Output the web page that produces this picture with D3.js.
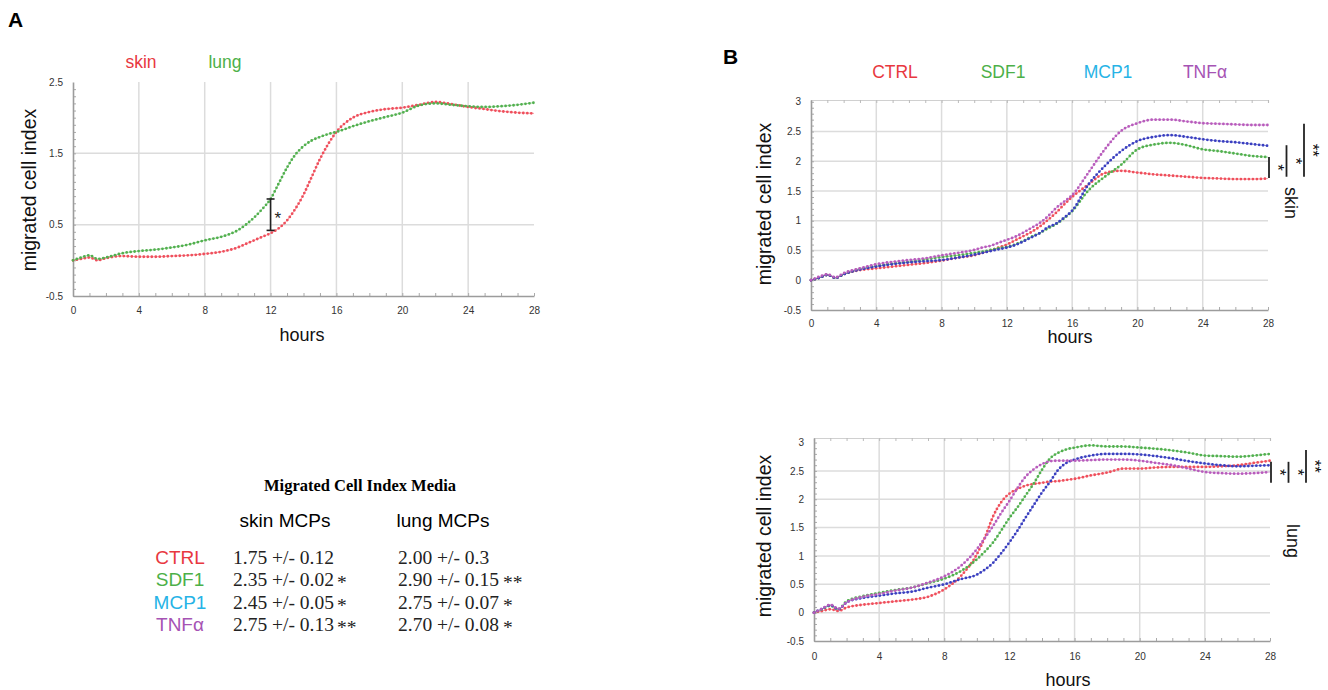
<!DOCTYPE html>
<html>
<head>
<meta charset="utf-8">
<script src="https://cdn.jsdelivr.net/npm/d3@7"></script>
<style>
  body { margin: 0; background: #fff; }
  svg text { font-family: "Liberation Sans", Arial, sans-serif; }
</style>
</head>
<body>
<div id="chart"></div>
<script>
// sampling hours shared by all curves
const hours = [0, 0.5, 1, 1.5, 2, 3, 4, 5, 6, 7, 8, 9, 10, 10.5, 11, 11.5, 12, 12.5, 13, 13.5, 14, 14.5, 15, 15.5, 16, 17, 18, 19, 20, 21, 22, 23, 24, 25, 26, 27, 28];
const hourTicks = [0, 4, 8, 12, 16, 20, 24, 28];

// panel A : skin vs lung MCPs
const skinA = [0.0, 0.02, 0.04, 0.0, 0.03, 0.06, 0.05, 0.05, 0.06, 0.07, 0.09, 0.12, 0.18, 0.23, 0.28, 0.33, 0.38, 0.45, 0.56, 0.72, 0.92, 1.17, 1.42, 1.63, 1.80, 2.00, 2.08, 2.12, 2.14, 2.18, 2.22, 2.19, 2.15, 2.12, 2.09, 2.07, 2.06];
const lungA = [0.0, 0.04, 0.07, 0.02, 0.04, 0.10, 0.13, 0.15, 0.18, 0.22, 0.28, 0.33, 0.42, 0.50, 0.60, 0.72, 0.86, 1.08, 1.30, 1.48, 1.60, 1.68, 1.73, 1.77, 1.80, 1.88, 1.95, 2.01, 2.07, 2.17, 2.20, 2.18, 2.16, 2.15, 2.16, 2.18, 2.21];
const sigA = {hour: 12, low: 0.42, high: 0.86, label: '*'};

// panel B : treatments
const treatments = ['CTRL', 'SDF1', 'MCP1', 'TNFα'];
const ctrlSkin = [0.0, 0.04, 0.09, 0.04, 0.10, 0.17, 0.20, 0.23, 0.26, 0.29, 0.33, 0.38, 0.42, 0.46, 0.50, 0.55, 0.60, 0.67, 0.74, 0.81, 0.90, 1.01, 1.13, 1.27, 1.40, 1.61, 1.80, 1.84, 1.81, 1.78, 1.76, 1.74, 1.72, 1.71, 1.70, 1.70, 1.71];
const sdf1Skin = [0.0, 0.04, 0.09, 0.04, 0.10, 0.19, 0.24, 0.28, 0.31, 0.35, 0.39, 0.42, 0.46, 0.48, 0.51, 0.54, 0.56, 0.60, 0.66, 0.73, 0.79, 0.87, 0.94, 1.04, 1.16, 1.51, 1.74, 1.94, 2.20, 2.28, 2.31, 2.27, 2.20, 2.17, 2.13, 2.09, 2.07];
const mcp1Skin = [0.0, 0.04, 0.09, 0.04, 0.10, 0.18, 0.23, 0.27, 0.30, 0.32, 0.34, 0.38, 0.43, 0.46, 0.49, 0.52, 0.55, 0.59, 0.65, 0.72, 0.79, 0.89, 0.95, 1.05, 1.17, 1.61, 1.92, 2.17, 2.34, 2.41, 2.44, 2.41, 2.37, 2.34, 2.32, 2.29, 2.26];
const tnfSkin = [0.0, 0.06, 0.10, 0.05, 0.12, 0.20, 0.27, 0.31, 0.34, 0.37, 0.42, 0.46, 0.51, 0.55, 0.58, 0.63, 0.68, 0.73, 0.80, 0.88, 0.96, 1.07, 1.21, 1.32, 1.43, 1.81, 2.20, 2.51, 2.64, 2.70, 2.70, 2.67, 2.64, 2.63, 2.62, 2.61, 2.61];

const ctrlLung = [0.0, 0.03, 0.06, 0.03, 0.09, 0.14, 0.17, 0.20, 0.23, 0.28, 0.41, 0.64, 1.03, 1.33, 1.70, 1.95, 2.10, 2.18, 2.24, 2.27, 2.29, 2.31, 2.32, 2.34, 2.36, 2.42, 2.47, 2.54, 2.54, 2.56, 2.57, 2.57, 2.57, 2.58, 2.60, 2.64, 2.68];
const sdf1Lung = [0.0, 0.06, 0.12, 0.06, 0.20, 0.29, 0.35, 0.40, 0.44, 0.52, 0.60, 0.73, 0.94, 1.08, 1.24, 1.45, 1.67, 1.86, 2.07, 2.28, 2.52, 2.72, 2.82, 2.88, 2.91, 2.95, 2.93, 2.93, 2.91, 2.89, 2.86, 2.82, 2.77, 2.76, 2.75, 2.77, 2.80];
const mcp1Lung = [0.0, 0.07, 0.13, 0.06, 0.18, 0.26, 0.30, 0.34, 0.37, 0.44, 0.50, 0.59, 0.67, 0.76, 0.88, 1.05, 1.24, 1.45, 1.68, 1.90, 2.12, 2.31, 2.52, 2.64, 2.70, 2.77, 2.80, 2.80, 2.79, 2.76, 2.72, 2.67, 2.63, 2.60, 2.58, 2.59, 2.60];
const tnfLung = [0.0, 0.07, 0.14, 0.07, 0.18, 0.28, 0.33, 0.39, 0.44, 0.53, 0.64, 0.82, 1.12, 1.32, 1.53, 1.76, 1.97, 2.20, 2.40, 2.53, 2.62, 2.67, 2.68, 2.68, 2.68, 2.69, 2.70, 2.70, 2.68, 2.64, 2.60, 2.54, 2.48, 2.46, 2.45, 2.46, 2.48];

const skinSigLow = [1.72, 1.74, 1.74];
const skinSigHigh = [2.07, 2.27, 2.63];
const lungSigLow = [2.29, 2.29, 2.29];
const lungSigHigh = [2.66, 2.66, 2.87];
const sigLabels = ['*', '*', '**'];

// table of means
const skinMean = [1.75, 2.35, 2.45, 2.75];
const skinSd = [0.12, 0.02, 0.05, 0.13];
const skinStars = ['', '*', '*', '**'];
const lungMean = [2.00, 2.90, 2.75, 2.70];
const lungSd = [0.3, 0.15, 0.07, 0.08];
const lungStars = ['', '**', '*', '*'];

const lineColors = ['#ef4f5c', '#52b04f', '#3a3fc0', '#b85cbc'];
const labelColors = ['#e8383f', '#4cb048', '#26b3e6', '#a653b4'];
const serif = '"Liberation Serif", "Times New Roman", serif';

const svg = d3.select('#chart').append('svg')
  .attr('width', 1328)
  .attr('height', 690);

function drawPanel(p) {
  const x = d3.scaleLinear().domain([0, 28]).range(p.xRange);
  const y = d3.scaleLinear().domain(p.yDomain).range(p.yRange);
  const g = svg.append('g');
  const bottom = p.yRange[0], top = p.yRange[1];

  // grid
  g.selectAll('line.vg').data([4, 8, 12, 16, 20, 24]).join('line')
    .attr('x1', d => x(d)).attr('x2', d => x(d))
    .attr('y1', bottom).attr('y2', top)
    .attr('stroke', '#dcdcdc').attr('stroke-width', 1.5);
  g.selectAll('line.hg').data(p.hGrid).join('line')
    .attr('x1', x(0)).attr('x2', x(28))
    .attr('y1', d => y(d)).attr('y2', d => y(d))
    .attr('stroke', '#dcdcdc').attr('stroke-width', 1.5);

  if (p.topFrame) {
    const t = g.append('g').attr('transform', `translate(0,${top})`)
      .call(d3.axisBottom(x).tickValues(d3.range(0, 29, 1)).tickSize(3).tickFormat(''));
    t.select('.domain').attr('stroke', '#d0d0d0').attr('stroke-width', 1.2);
    t.selectAll('.tick line').attr('stroke', '#bbb');
  }

  // minor ticks
  const ym = g.append('g').attr('transform', `translate(${x(0)},0)`)
    .call(d3.axisRight(y).tickValues(d3.range(p.yDomain[0], p.yDomain[1], 0.1)).tickSize(3).tickFormat(''));
  ym.select('.domain').remove();
  ym.selectAll('.tick line').attr('stroke', '#aaa');
  const xm = g.append('g').attr('transform', `translate(0,${bottom})`)
    .call(d3.axisTop(x).tickValues(d3.range(0, 29, 1)).tickSize(3).tickFormat(''));
  xm.select('.domain').remove();
  xm.selectAll('.tick line').attr('stroke', '#aaa');

  // axes with labels
  const ya = g.append('g').attr('transform', `translate(${x(0)},0)`)
    .call(d3.axisLeft(y).tickValues(p.yTicks).tickSize(0).tickPadding(10).tickFormat(d => String(d)));
  const xa = g.append('g').attr('transform', `translate(0,${bottom})`)
    .call(d3.axisBottom(x).tickValues(hourTicks).tickSize(0).tickPadding(p.xPad).tickFormat(d => String(d)));
  [ya, xa].forEach(a => {
    a.select('.domain').attr('stroke', '#9c9c9c').attr('stroke-width', 1.6);
    a.selectAll('text').attr('font-size', 10).attr('fill', '#333');
  });

  // curves: thin line plus dotted overlay
  const line = d3.line()
    .x((d, i) => x(hours[i]))
    .y(d => y(d))
    .curve(d3.curveMonotoneX);
  p.series.forEach((s, i) => {
    g.append('path').datum(s)
      .attr('d', line).attr('fill', 'none')
      .attr('stroke', p.colors[i]).attr('stroke-width', 1).attr('stroke-opacity', 0.55);
    g.append('path').datum(s)
      .attr('d', line).attr('fill', 'none')
      .attr('stroke', p.colors[i]).attr('stroke-width', 2.8)
      .attr('stroke-linecap', 'round').attr('stroke-dasharray', '0 4');
  });

  // axis titles
  g.append('text')
    .attr('transform', `translate(${p.yTitle[0]},${p.yTitle[1]}) rotate(-90)`)
    .attr('text-anchor', 'middle').attr('font-size', 19.5).attr('fill', '#111')
    .text('migrated cell index');
  g.append('text')
    .attr('x', p.xTitle[0]).attr('y', p.xTitle[1])
    .attr('text-anchor', 'middle').attr('font-size', 18).attr('fill', '#111')
    .text('hours');

  return {x, y, g};
}

// ---------- panel A ----------
svg.append('text').attr('x', 8).attr('y', 27).attr('font-size', 21).attr('font-weight', 'bold').text('A');
['skin', 'lung'].forEach((t, i) => {
  svg.append('text').attr('x', [141, 225][i]).attr('y', 68)
    .attr('text-anchor', 'middle').attr('font-size', 17.5)
    .attr('fill', labelColors[i]).text(t);
});
const A = drawPanel({
  xRange: [73, 534], yDomain: [-0.5, 2.5], yRange: [296, 82],
  yTicks: [-0.5, 0.5, 1.5, 2.5], hGrid: [0.5, 1.5], topFrame: false, xPad: 11,
  series: [skinA, lungA], colors: [lineColors[0], lineColors[1]],
  yTitle: [36, 190], xTitle: [302, 341]
});
{
  const bx = A.x(sigA.hour), y1 = A.y(sigA.low), y2 = A.y(sigA.high);
  A.g.append('line').attr('x1', bx).attr('x2', bx).attr('y1', y1).attr('y2', y2)
    .attr('stroke', '#222').attr('stroke-width', 1.6);
  [y1, y2].forEach(v => A.g.append('line').attr('x1', bx - 4).attr('x2', bx + 4)
    .attr('y1', v).attr('y2', v).attr('stroke', '#222').attr('stroke-width', 1.6));
  A.g.append('text').attr('x', bx + 4).attr('y', (y1 + y2) / 2 + 9)
    .attr('font-size', 17).attr('fill', '#222').text(sigA.label);
}

// ---------- panel B ----------
svg.append('text').attr('x', 723).attr('y', 64).attr('font-size', 21).attr('font-weight', 'bold').text('B');
treatments.forEach((t, i) => {
  svg.append('text').attr('x', [895, 1003, 1108, 1205][i]).attr('y', 78)
    .attr('text-anchor', 'middle').attr('font-size', 17.5)
    .attr('fill', labelColors[i]).text(t);
});

function sigBars(P, lows, highs, side, sideY) {
  const x0 = P.x(28);
  lows.forEach((lo, i) => {
    const bx = x0 + 1 + i * 17.5;
    const y1 = P.y(lo), y2 = P.y(highs[i]);
    P.g.append('line').attr('x1', bx).attr('x2', bx).attr('y1', y1).attr('y2', y2)
      .attr('stroke', '#222').attr('stroke-width', 1.8);
    P.g.append('text')
      .attr('transform', `translate(${bx + 3},${(y1 + y2) / 2}) rotate(90)`)
      .attr('text-anchor', 'middle').attr('font-size', 17).attr('fill', '#111')
      .text(sigLabels[i]);
  });
  P.g.append('text')
    .attr('transform', `translate(${x0 + 17},${sideY}) rotate(90)`)
    .attr('text-anchor', 'middle').attr('font-size', 18).attr('fill', '#111')
    .text(side);
}

const BS = drawPanel({
  xRange: [811, 1268], yDomain: [-0.5, 3.03], yRange: [310, 100],
  yTicks: [-0.5, 0, 0.5, 1, 1.5, 2, 2.5, 3], hGrid: [0, 0.5, 1, 1.5, 2, 2.5], topFrame: true, xPad: 10,
  series: [ctrlSkin, sdf1Skin, mcp1Skin, tnfSkin], colors: lineColors,
  yTitle: [771, 204], xTitle: [1070, 343]
});
sigBars(BS, skinSigLow, skinSigHigh, 'skin', 203);

const BL = drawPanel({
  xRange: [814, 1270], yDomain: [-0.5, 3.08], yRange: [641, 438],
  yTicks: [-0.5, 0, 0.5, 1, 1.5, 2, 2.5, 3], hGrid: [0, 0.5, 1, 1.5, 2, 2.5], topFrame: true, xPad: 12,
  series: [ctrlLung, sdf1Lung, mcp1Lung, tnfLung], colors: lineColors,
  yTitle: [771, 536], xTitle: [1068, 686]
});
sigBars(BL, lungSigLow, lungSigHigh, 'lung', 541);

// ---------- table ----------
const tbl = svg.append('g');
tbl.append('text').attr('x', 360).attr('y', 491).attr('text-anchor', 'middle')
  .style('font-family', serif)
  .attr('font-weight', 'bold').attr('font-size', 16.5).text('Migrated Cell Index Media');
tbl.append('text').attr('x', 285).attr('y', 527).attr('text-anchor', 'middle')
  .attr('font-size', 19).text('skin MCPs');
tbl.append('text').attr('x', 443).attr('y', 527).attr('text-anchor', 'middle')
  .attr('font-size', 19).text('lung MCPs');

const rowY = d3.scaleLinear().domain([0, 3]).range([564, 631]);
treatments.forEach((t, i) => {
  const yy = rowY(i);
  tbl.append('text').attr('x', 180).attr('y', yy).attr('text-anchor', 'middle')
    .attr('font-size', 19).attr('fill', labelColors[i]).text(t);
  tbl.append('text').attr('x', 233).attr('y', yy).style('font-family', serif).attr('font-size', 19.5)
    .attr('fill', '#222').text(`${skinMean[i].toFixed(2)} +/- ${skinSd[i]}`);
  tbl.append('text').attr('x', 337).attr('y', yy + 3).style('font-family', serif).attr('font-size', 19.5)
    .attr('fill', '#222').text(skinStars[i]);
  tbl.append('text').attr('x', 398).attr('y', yy).style('font-family', serif).attr('font-size', 19.5)
    .attr('fill', '#222').text(`${lungMean[i].toFixed(2)} +/- ${lungSd[i]}`);
  tbl.append('text').attr('x', 503).attr('y', yy + 3).style('font-family', serif).attr('font-size', 19.5)
    .attr('fill', '#222').text(lungStars[i]);
});
</script>
</body>
</html>
